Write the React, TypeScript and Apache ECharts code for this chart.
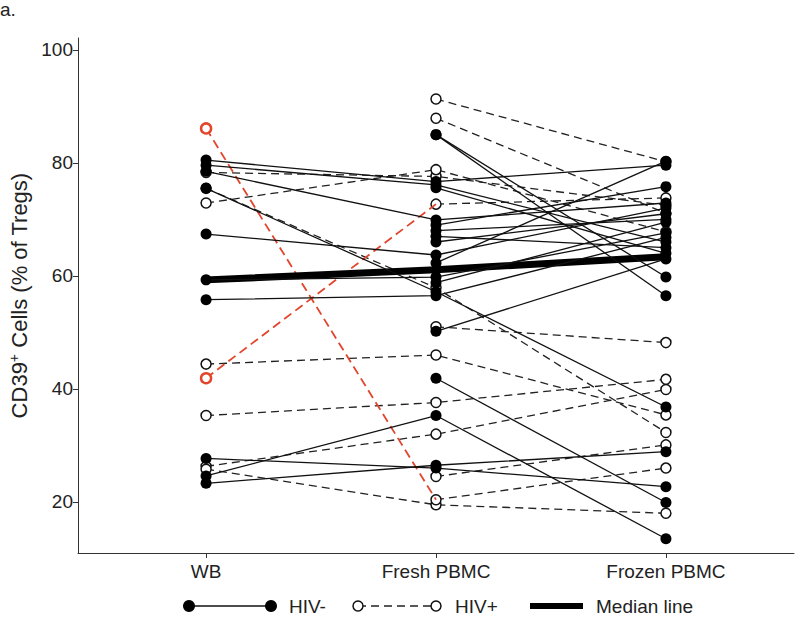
import React, { useEffect, useRef } from "react";
import * as echarts from "echarts";

const categories = ["WB", "Fresh PBMC", "Frozen PBMC"];
const yTicks = [20, 40, 60, 80, 100];

// HIV- subjects (solid lines, filled markers); null = not measured
const hivNegWB = [80.5, 79.6, 78.5, 75.5, 67.4, 59.3, 55.8, 27.7, 24.6, 23.3, null, null, null, null, null, null, null, null, null, null, null];
const hivNegFresh = [76.7, 76.1, 69.9, 57.2, 63.7, 59.8, 56.5, 26.0, 35.3, 26.5, 85.0, 85.0, 75.6, 69.0, 68.0, 67.0, 66.0, 62.3, 58.8, 50.2, 41.9];
const hivNegFrozen = [79.6, 66.0, 72.9, 36.8, 72.0, 67.6, 66.8, 22.7, 13.5, 28.9, 59.8, 56.5, 64.0, 75.8, 70.0, 65.0, 71.0, 80.3, 69.5, 63.0, 19.9];

// HIV+ subjects (dashed lines, hollow markers)
const hivPosWB = [78.3, 72.9, 75.5, 44.4, 35.3, 26.3, 25.8, null, null, null, null];
const hivPosFresh = [77.6, 78.8, 57.9, 46.0, 37.6, 32.0, 19.5, 91.3, 87.9, 51.0, 24.5];
const hivPosFrozen = [72.5, 67.8, 32.3, 35.4, 41.7, 39.9, 18.0, 80.2, 71.1, 48.2, 30.1];

// highlighted HIV+ subjects (red WB -> Fresh segment)
const redWB = [86.1, 41.9];
const redFresh = [20.4, 72.7];
const redFrozen = [26.0, 73.8];

// median line
const medianValues = [59.3, 61.1, 63.4];

const FONT = "Liberation Sans, Arial, Helvetica, sans-serif";
const RED = "#e2452c";

function pts(vals: (number | null)[]) {
  const out: number[][] = [];
  vals.forEach((v, i) => {
    if (v !== null && v !== undefined) out.push([i + 1, v]);
  });
  return out;
}

export default function App() {
  const ref = useRef<HTMLDivElement>(null);
  useEffect(() => {
    document.body.style.margin = "0";
    if (!ref.current) return;
    const chart = echarts.init(ref.current, undefined, { renderer: "svg" });
    const series: any[] = [];

    hivPosFresh.forEach((_, i) => {
      series.push({
        type: "line",
        data: pts([hivPosWB[i], hivPosFresh[i], hivPosFrozen[i]]),
        symbol: "circle",
        symbolSize: 10,
        itemStyle: { color: "#fff", borderColor: "#111", borderWidth: 1.5 },
        lineStyle: { color: "#222", width: 1.3, type: [8, 5] },
        z: 2,
      });
    });

    redWB.forEach((_, i) => {
      series.push({
        type: "line",
        data: pts([null, redFresh[i], redFrozen[i]]),
        symbol: "circle",
        symbolSize: 10,
        itemStyle: { color: "#fff", borderColor: "#111", borderWidth: 1.5 },
        lineStyle: { color: "#222", width: 1.3, type: [8, 5] },
        z: 2,
      });
      series.push({
        type: "line",
        data: [
          { value: [1, redWB[i]] },
          { value: [2, redFresh[i]], symbol: "none" },
        ],
        symbol: "circle",
        symbolSize: 10,
        itemStyle: { color: "#fff", borderColor: RED, borderWidth: 2.5 },
        lineStyle: { color: RED, width: 1.8, type: [9, 5] },
        z: 3,
      });
    });

    series.push({
      type: "line",
      data: pts(medianValues),
      symbol: "none",
      lineStyle: { color: "#000", width: 7 },
      z: 4,
    });

    hivNegFresh.forEach((_, i) => {
      series.push({
        type: "line",
        data: pts([hivNegWB[i], hivNegFresh[i], hivNegFrozen[i]]),
        symbol: "circle",
        symbolSize: 11,
        itemStyle: { color: "#000" },
        lineStyle: { color: "#111", width: 1.3 },
        z: 5,
      });
    });

    chart.setOption({
      animation: false,
      backgroundColor: "#fff",
      grid: { left: 78, right: 6, top: 38, bottom: 68, outerBoundsMode: "none", containLabel: false },
      xAxis: {
        type: "value",
        min: 0.443,
        max: 3.557,
        splitLine: { show: false },
        axisLine: { lineStyle: { color: "#333", width: 1 } },
        axisTick: { show: true, customValues: [1, 2, 3], length: 5, lineStyle: { color: "#333" } },
        axisLabel: {
          customValues: [1, 2, 3],
          formatter: (v: number) => categories[Math.round(v) - 1],
          color: "#222",
          fontSize: 19,
          fontFamily: FONT,
          margin: 9,
        },
      },
      yAxis: {
        type: "value",
        min: 10.97,
        max: 102.1,
        splitLine: { show: false },
        axisLine: { show: true, lineStyle: { color: "#333", width: 1 } },
        axisTick: { show: true, customValues: yTicks, length: 5, lineStyle: { color: "#333" } },
        axisLabel: {
          customValues: yTicks,
          color: "#222",
          fontSize: 19,
          fontFamily: FONT,
          margin: 5,
        },
        name: "{a|CD39}{s|+}{a| Cells (% of Tregs)}",
        nameLocation: "middle",
        nameGap: 46,
        nameTextStyle: {
          rich: {
            a: { fontSize: 22, fontFamily: FONT, color: "#222" },
            s: { fontSize: 14, fontFamily: FONT, color: "#222", padding: [0, 0, 10, 0] },
          },
        },
      },
      series,
      graphic: [
        { type: "text", left: 0, top: 0, style: { text: "a.", font: `19px ${FONT}`, fill: "#222" } },
        { type: "line", shape: { x1: 189, y1: 606, x2: 271, y2: 606 }, style: { stroke: "#111", lineWidth: 1.5 } },
        { type: "circle", shape: { cx: 189, cy: 606, r: 6 }, style: { fill: "#000" } },
        { type: "circle", shape: { cx: 271, cy: 606, r: 6 }, style: { fill: "#000" } },
        { type: "text", x: 289, y: 606, style: { text: "HIV-", font: `19px ${FONT}`, fill: "#222", verticalAlign: "middle" } },
        { type: "line", shape: { x1: 358, y1: 606, x2: 436, y2: 606 }, style: { stroke: "#222", lineWidth: 1.3, lineDash: [8, 5] } },
        { type: "circle", shape: { cx: 358, cy: 606, r: 5 }, style: { fill: "#fff", stroke: "#111", lineWidth: 1.5 } },
        { type: "circle", shape: { cx: 436, cy: 606, r: 5 }, style: { fill: "#fff", stroke: "#111", lineWidth: 1.5 } },
        { type: "text", x: 455, y: 606, style: { text: "HIV+", font: `19px ${FONT}`, fill: "#222", verticalAlign: "middle" } },
        { type: "line", shape: { x1: 530, y1: 606, x2: 583, y2: 606 }, style: { stroke: "#000", lineWidth: 6 } },
        { type: "text", x: 596, y: 606, style: { text: "Median line", font: `19px ${FONT}`, fill: "#222", verticalAlign: "middle" } },
      ],
    });
    return () => chart.dispose();
  }, []);
  return <div ref={ref} style={{ width: 800, height: 621 }} />;
}
